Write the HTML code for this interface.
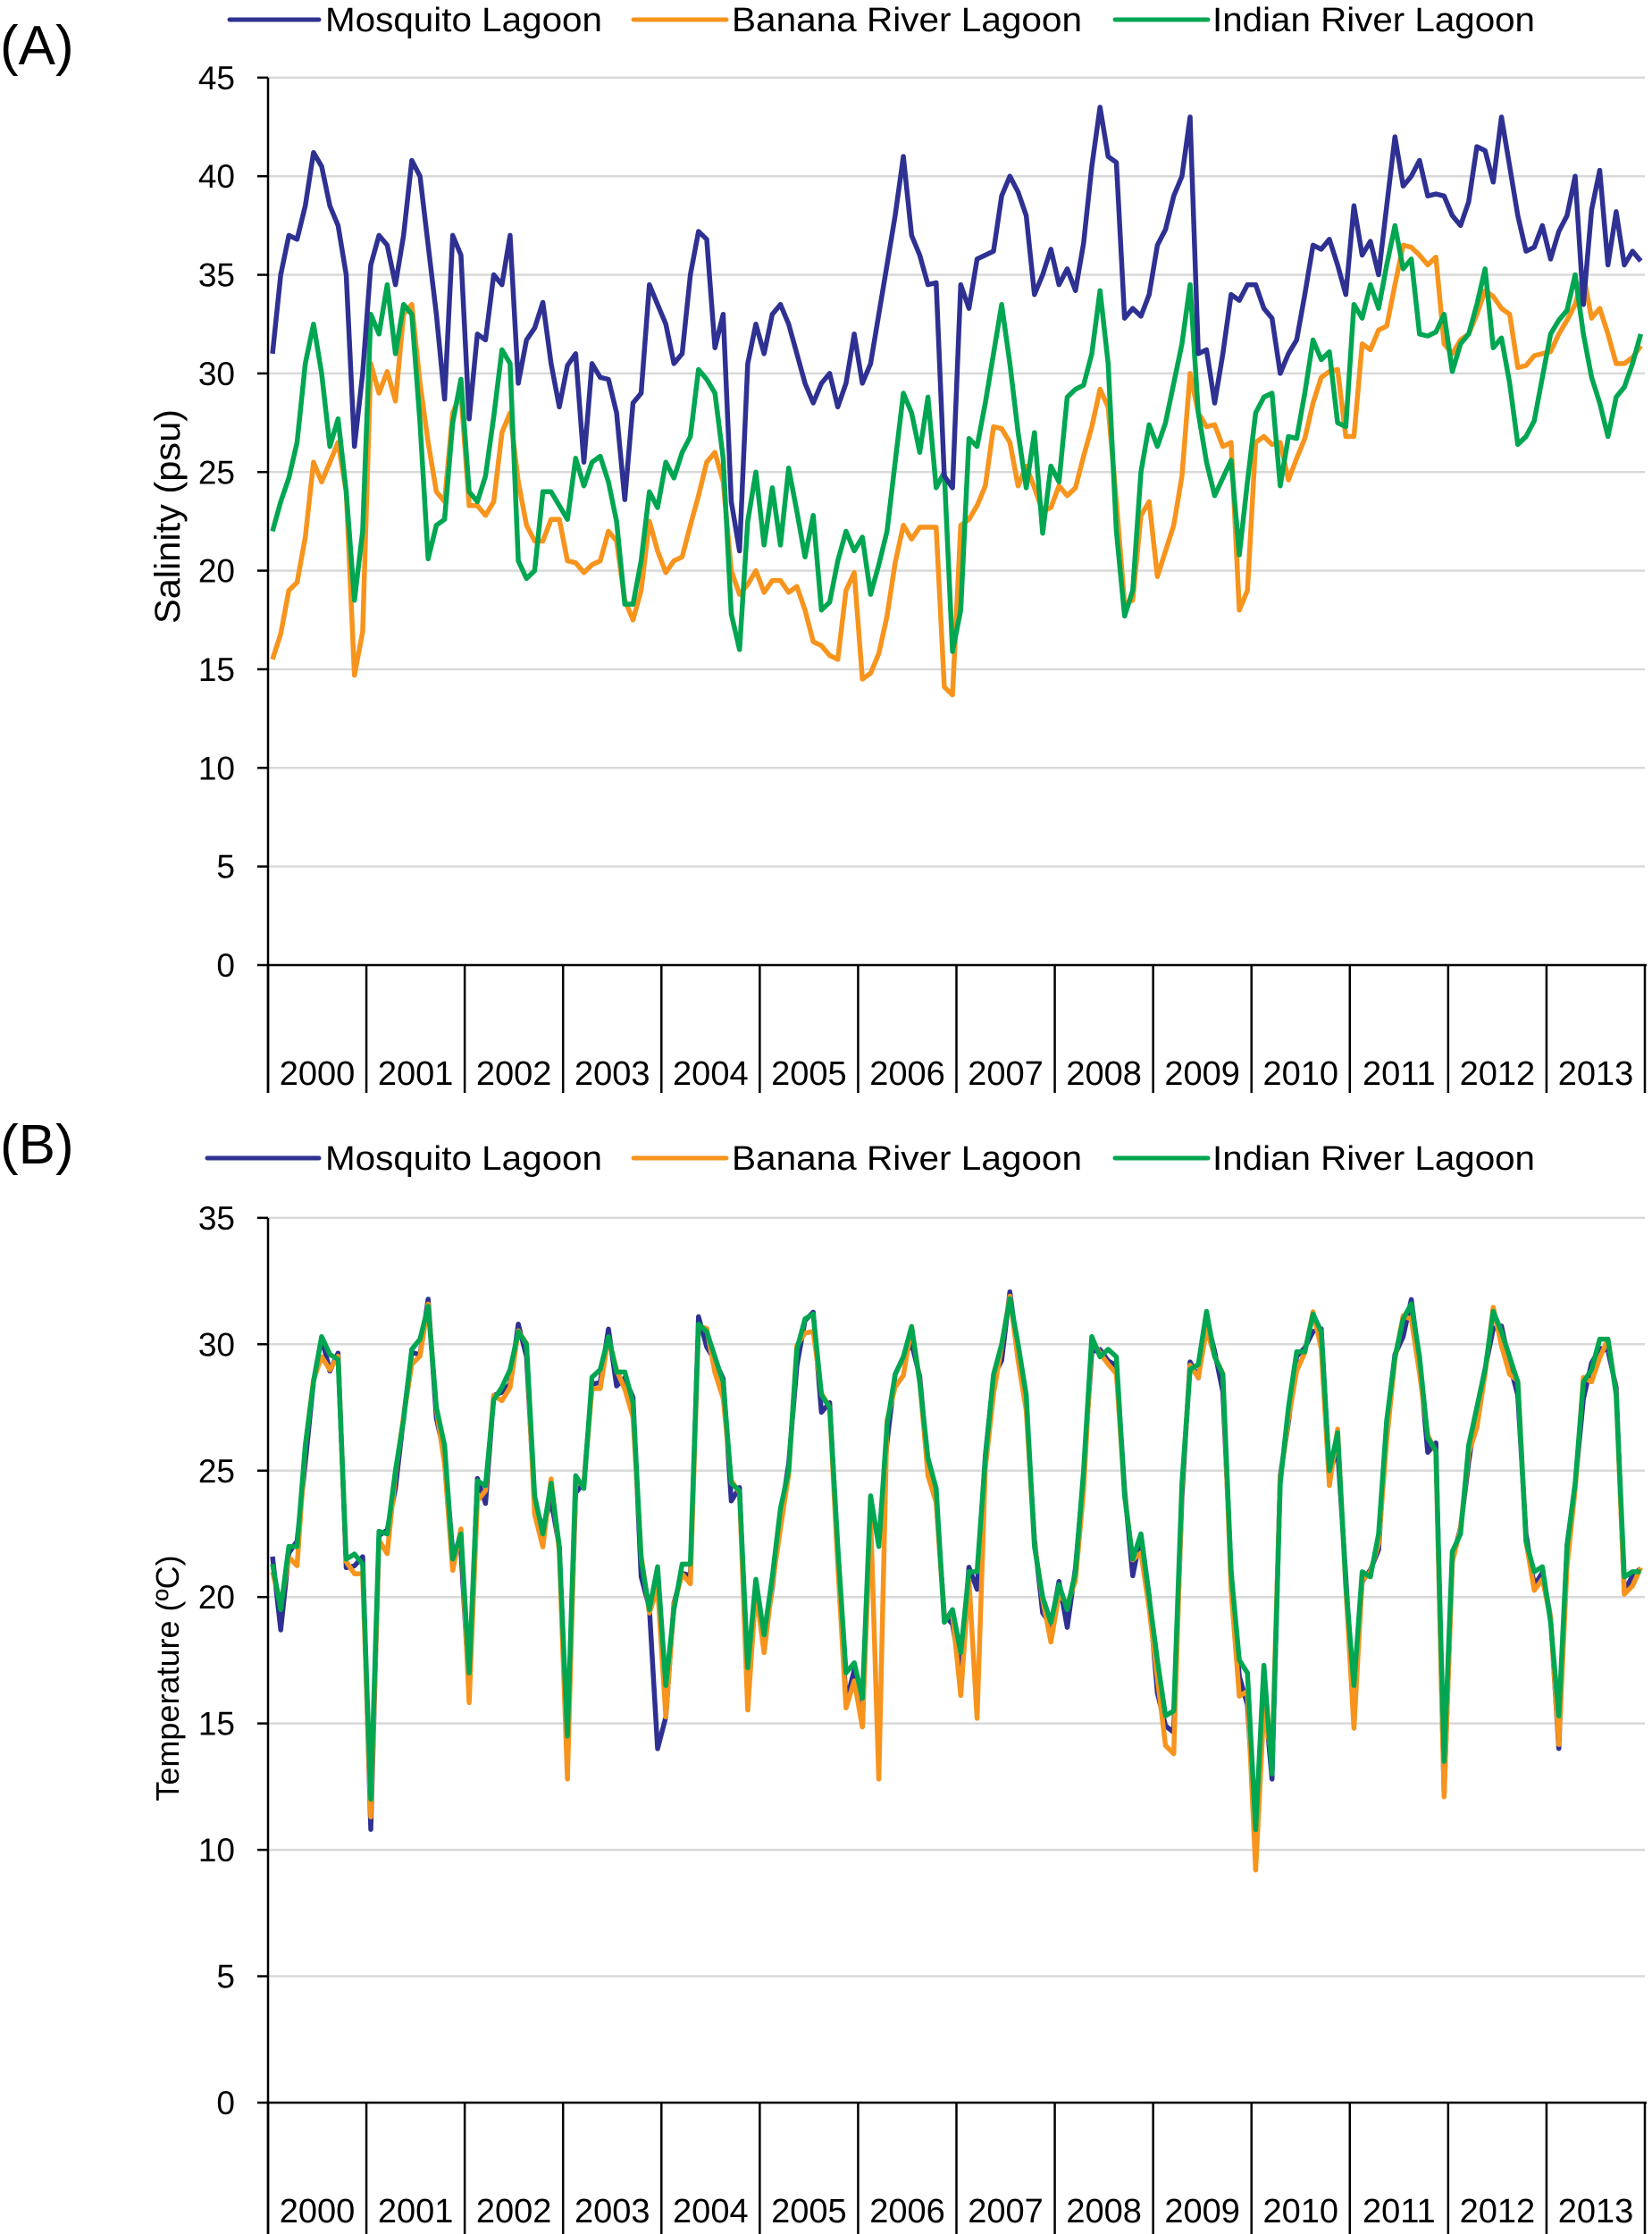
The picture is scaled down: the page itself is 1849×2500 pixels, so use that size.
<!DOCTYPE html>
<html><head><meta charset="utf-8"><style>
html,body{margin:0;padding:0;background:#fff;}
svg{display:block;}
text{font-family:"Liberation Sans",Arial,sans-serif;fill:#000;}
</style></head><body>
<svg id="s" width="1849" height="2500" viewBox="0 0 1849 2500" xmlns="http://www.w3.org/2000/svg">
<rect width="1849" height="2500" fill="#fff"/>
<g id="grid"></g>
<g id="axes"></g>
<g id="lines"></g>
<text x="0" y="72" font-size="62">(A)</text>
<line x1="257" y1="22" x2="357" y2="22" stroke="#2e3192" stroke-width="5" stroke-linecap="round"/>
<text x="364" y="35" font-size="38" textLength="310" lengthAdjust="spacingAndGlyphs">Mosquito Lagoon</text>
<line x1="709" y1="22" x2="813" y2="22" stroke="#f7941d" stroke-width="5" stroke-linecap="round"/>
<text x="819" y="35" font-size="38" textLength="392" lengthAdjust="spacingAndGlyphs">Banana River Lagoon</text>
<line x1="1248" y1="22" x2="1352" y2="22" stroke="#00a651" stroke-width="5" stroke-linecap="round"/>
<text x="1357" y="35" font-size="38" textLength="361" lengthAdjust="spacingAndGlyphs">Indian River Lagoon</text>
<text transform="translate(201,578) rotate(-90)" text-anchor="middle" font-size="40" textLength="240" lengthAdjust="spacingAndGlyphs">Salinity (psu)</text>
<text x="0" y="1302" font-size="62">(B)</text>
<line x1="232" y1="1296" x2="357" y2="1296" stroke="#2e3192" stroke-width="5" stroke-linecap="round"/>
<text x="364" y="1309" font-size="38" textLength="310" lengthAdjust="spacingAndGlyphs">Mosquito Lagoon</text>
<line x1="709" y1="1296" x2="813" y2="1296" stroke="#f7941d" stroke-width="5" stroke-linecap="round"/>
<text x="819" y="1309" font-size="38" textLength="392" lengthAdjust="spacingAndGlyphs">Banana River Lagoon</text>
<line x1="1248" y1="1296" x2="1352" y2="1296" stroke="#00a651" stroke-width="5" stroke-linecap="round"/>
<text x="1357" y="1309" font-size="38" textLength="361" lengthAdjust="spacingAndGlyphs">Indian River Lagoon</text>
<text transform="translate(200,1878) rotate(-90)" text-anchor="middle" font-size="36">Temperature (ºC)</text>
<g id="labels"></g>
</svg>
<script>
var NS="http://www.w3.org/2000/svg";
function el(p,t,a,txt){var e=document.createElementNS(NS,t);for(var k in a)e.setAttribute(k,a[k]);if(txt!==undefined)e.textContent=txt;document.getElementById(p).appendChild(e);return e;}
var X0=300,X1=1841,YW=(X1-X0)/14;
function panel(y0,ppu,max,step,sepBottom,labY){
  for(var v=0;v<=max;v+=step){
    var y=y0-v*ppu;
    if(v>0) el("grid","line",{x1:X0,y1:y,x2:X1,y2:y,stroke:"#d9d9d9","stroke-width":2.5});
    el("axes","line",{x1:288,y1:y,x2:X0,y2:y,stroke:"#000","stroke-width":2.5});
    el("labels","text",{x:263,y:y+13,"text-anchor":"end","font-size":37},String(v));
  }
  el("axes","line",{x1:X0,y1:y0-max*ppu,x2:X0,y2:sepBottom,stroke:"#000","stroke-width":2.5});
  el("axes","line",{x1:X0,y1:y0,x2:X1+2,y2:y0,stroke:"#000","stroke-width":2.5});
  for(var i=0;i<=14;i++){var x=X0+i*YW;el("axes","line",{x1:x,y1:y0,x2:x,y2:sepBottom,stroke:"#000","stroke-width":2.5});}
  for(var i=0;i<14;i++){el("labels","text",{x:X0+(i+0.5)*YW,y:labY,"text-anchor":"middle","font-size":38},String(2000+i));}
}
panel(1080,22.07,45,5,1223,1214);
panel(2353,28.29,35,5,2500,2487);
function draw(data,y0,ppu,color){
  var pts=[];for(var i=0;i<data.length;i++){pts.push((305+i*9.17).toFixed(1)+","+(y0-data[i]*ppu).toFixed(1));}
  el("lines","polyline",{points:pts.join(" "),fill:"none",stroke:color,"stroke-width":5.5,"stroke-linejoin":"round"});
}
var blueA=[31,35,37,36.8,38.5,41.2,40.5,38.5,37.5,35,26.3,30,
35.5,37,36.5,34.5,37,40.8,40,36.5,33,28.7,37,36,
27.7,32,31.7,35,34.5,37,29.5,31.7,32.3,33.6,30.5,28.3,
30.4,31,25.5,30.5,29.8,29.7,28,23.6,28.5,29,34.5,33.5,
32.5,30.5,31,35,37.2,36.8,31.3,33,23.5,21,30.5,32.5,
31,33,33.5,32.5,31,29.5,28.5,29.5,30,28.3,29.5,32,
29.5,30.5,33,35.5,38,41,37,36,34.5,34.6,24.8,24.2,
34.5,33.3,35.8,36,36.2,39,40,39.2,38,34,35,36.3,
34.5,35.3,34.2,36.6,40.5,43.5,41,40.7,32.8,33.3,32.9,34,
36.5,37.3,39,40,43,31,31.2,28.5,31,34,33.7,34.5,
34.5,33.3,32.8,30,31,31.7,34,36.5,36.3,36.8,35.5,34,
38.5,36,36.7,35,38.5,42,39.5,40,40.8,39,39.1,39,
38,37.5,38.7,41.5,41.3,39.7,43,40.5,38,36.2,36.4,37.5,
35.8,37.2,38,40,33.5,38.3,40.3,35.5,38.2,35.5,36.2,35.7];
var orA=[15.5,16.8,19,19.4,21.7,25.5,24.5,25.5,26.5,24,14.7,16.9,
30.5,29,30.1,28.6,33,33.5,29.5,26.5,24,23.5,28,29,
23.3,23.3,22.8,23.5,27,28,24.5,22.3,21.5,21.5,22.6,22.6,
20.5,20.4,19.9,20.3,20.5,22,21.5,18.5,17.5,19,22.5,21,
19.9,20.5,20.7,22.3,23.8,25.5,26,24.5,20,18.8,19.3,20,
18.9,19.5,19.5,18.9,19.2,18,16.4,16.2,15.7,15.5,19,19.9,
14.5,14.8,15.8,17.7,20.4,22.3,21.6,22.2,22.2,22.2,14.1,13.7,
22.3,22.6,23.3,24.3,27.3,27.2,26.5,24.3,25.3,24.2,23,23.2,
24.3,23.8,24.2,25.8,27.3,29.2,28.3,23.5,18.3,18.5,22.8,23.5,
19.7,21,22.3,24.8,30,28,27.3,27.4,26.3,26.5,18,19,
26.5,26.8,26.4,26.5,24.6,25.7,26.7,28.5,29.8,30.1,30.2,26.8,
26.8,31.5,31.2,32.2,32.4,34.5,36.5,36.4,36,35.5,35.9,31.5,
31,31.7,32,33,34.2,33.9,33.3,33,30.3,30.4,30.9,31,
31.1,32,32.7,33.5,35,32.8,33.3,32,30.5,30.5,30.8,31.4];
var grA=[22,23.5,24.7,26.5,30.5,32.5,30,26.3,27.7,24,18.5,22,
33,32,34.5,31,33.5,33,27.5,20.6,22.3,22.6,27.5,29.7,
24,23.5,24.8,27.8,31.2,30.5,20.5,19.6,20,24,24,23.3,
22.6,25.7,24.3,25.5,25.8,24.5,22.5,18.3,18.3,20.5,24,23.2,
25.5,24.7,26,26.8,30.2,29.7,29,25.7,17.8,16,22.5,25,
21.3,24.2,21.3,25.2,23,20.7,22.8,18,18.4,20.5,22,21,
21.7,18.8,20.3,22,25.5,29,28,26,28.8,24.2,25,15.9,
18,26.7,26.3,28.5,31,33.5,30.5,27,24.2,27,21.9,25.3,
24.5,28.8,29.2,29.4,31,34.2,30.5,22,17.7,19,25,27.4,
26.3,27.5,29.5,31.5,34.5,28,25.5,23.8,24.7,25.6,20.8,24.5,
28,28.8,29,24.3,26.8,26.7,29,31.7,30.7,31.1,27.5,27.3,
33.5,32.8,34.5,33.3,35.5,37.5,35.3,35.8,32,31.9,32.1,33,
30.1,31.5,32,33.5,35.3,31.3,31.8,29.5,26.4,26.8,27.6,29.8,
32,32.7,33.2,35,32,29.8,28.5,26.8,28.8,29.3,30.5,32];
draw(orA,1080,22.07,"#f7941d");
draw(grA,1080,22.07,"#00a651");
draw(blueA,1080,22.07,"#2e3192");
var grB=[21.3,19.5,22,22,26,28.5,30.3,29.6,29.4,21.5,21.7,21.3,
12,22.6,22.5,25,27,29.8,30.2,31.5,27.5,26,21.5,22.5,
17,24.6,24.4,27.8,28.3,29,30.5,30,24,22.5,24.5,22,
14.5,24.8,24.3,28.7,29,30.3,28.9,28.9,27.7,21.5,19.5,21.2,
16.5,19.5,21.3,21.3,30.8,30.5,29.5,28.5,24.5,24.2,17.2,20.7,
18.5,20.8,23.5,25,29.8,31,31.2,28,27.5,22,17,17.4,
16,24,22,26.8,28.8,29.5,30.7,28.5,25.5,24.3,19,19.5,
17.8,21,21,25.5,28.8,30,31.8,30,28,22,20,19,
20.5,19.5,21,25,30.3,29.5,29.8,29.5,24,21.5,22.5,20,
17.5,15.3,15.5,24.5,29,29.2,31.3,29.5,28.8,21,17.5,17,
10.8,17.3,13,24.5,27.5,29.7,29.7,31.2,30.5,25,26.5,20.5,
16.5,21,20.8,22.5,27,29.5,31,31.6,29.5,26.3,25.8,13.5,
21.8,22.5,26,27.5,29,31.3,30.5,29.5,28.5,22.2,21,21.2,
19,15.3,22,24.5,28.5,29,30.2,30.2,28,20.8,21,21];
var orB=[],blB=[];
for(var i=0;i<grB.length;i++){
  var d=Math.sin(i*1.7)*0.5, e=Math.cos(i*2.3)*0.5;
  var lowAdj=grB[i]<19?-0.9:0;
  orB.push(grB[i]-0.3+d+lowAdj);
  blB.push(grB[i]-0.2+e+(grB[i]<19?-0.6:0));
}
orB[120]=9.2;blB[120]=10.5;orB[122]=13.6;blB[122]=12.8;blB[1]=18.7;orB[6]=29.5;
blB[47]=14;orB[74]=12.8;blB[143]=12.2;orB[143]=12.1;orB[86]=15.2;
draw(blB,2353,28.29,"#2e3192");
draw(orB,2353,28.29,"#f7941d");
draw(grB,2353,28.29,"#00a651");
</script>
</body></html>
